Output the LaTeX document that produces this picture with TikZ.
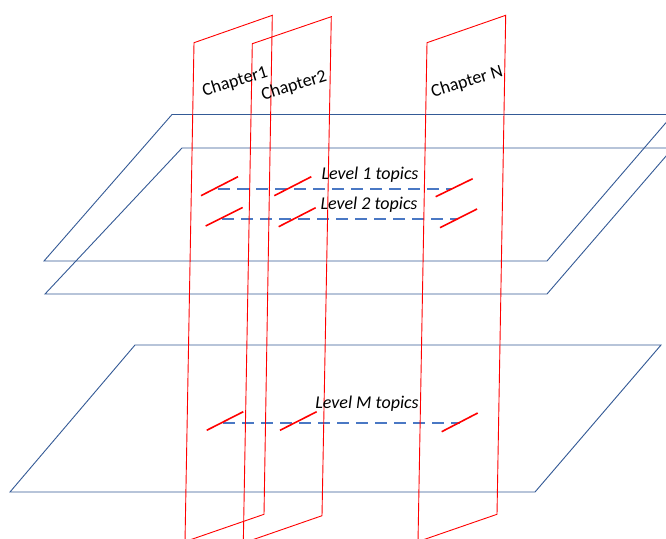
\documentclass[tikz,border=0pt]{standalone}
\usepackage{fontspec}
\setmainfont{Carlito}
\definecolor{planeblue}{RGB}{52,90,150}
\definecolor{topicblue}{RGB}{74,120,196}
\begin{document}
\begin{tikzpicture}[x=1pt,y=-1pt,
    plane/.style={draw=planeblue, line width=.9pt},
    chapter/.style={draw=red, line width=.9pt},
    topicmark/.style={red, line width=1.6pt},
    topicline/.style={topicblue, line width=2pt, dash pattern=on 12pt off 7pt},
    toplabel/.style={font=\fontsize{18}{21}\selectfont\itshape, inner sep=0pt},
    chaplabel/.style={font=\fontsize{18}{21}\selectfont, inner sep=0pt, rotate=17}]
      \clip (0,0) rectangle (666,538);
      \fill[white] (0,0) rectangle (666,538);
      \draw[plane] (172,114.5) -- (673,114.5) -- (547,261) -- (44,261) -- cycle;
      \draw[plane] (182,148) -- (673,148) -- (547,294) -- (45,294) -- cycle;
      \draw[plane] (135,345) -- (661,345) -- (535,492) -- (10,492) -- cycle;
      \draw[topicline] (218,189) -- (452,189);
      \draw[topicline] (222,219) -- (458,219);
      \draw[topicline] (223,423) -- (460,423);
      \draw[chapter] (194,42.7) -- (272.3,15.3) -- (264,514.3) -- (185,541.6) -- cycle;
      \draw[chapter] (252.3,43.7) -- (331.3,16.7) -- (322,515.7) -- (243.3,543) -- cycle;
      \draw[chapter] (427,42.7) -- (505.7,15.3) -- (497,514.3) -- (418,541.6) -- cycle;
      \draw[topicmark] (201,195.7) -- +(37,-19);
      \draw[topicmark] (274.3,195.7) -- +(37,-19);
      \draw[topicmark] (435.7,196.7) -- +(37,-18);
      \draw[topicmark] (205.7,226) -- +(37,-18.5);
      \draw[topicmark] (278.7,226.7) -- +(37,-19);
      \draw[topicmark] (440,227.7) -- +(37,-18.7);
      \draw[topicmark] (206.7,430.3) -- +(36.6,-18.6);
      \draw[topicmark] (280,430.3) -- +(36.7,-18.6);
      \draw[topicmark] (441.7,431.7) -- +(36,-18.7);
      \node[toplabel] (lev1) at (370,175) {Level 1 topics};
      \node[toplabel] (lev2) at (369,205) {Level 2 topics};
      \node[toplabel] (levm) at (367,404) {Level M topics};
      \node[chaplabel] (ch1) at (235,82) {Chapter1};
      \node[chaplabel] (ch2) at (294,86) {Chapter2};
      \node[chaplabel] (chn) at (467,82) {Chapter N};
    \end{tikzpicture}
\end{document}
